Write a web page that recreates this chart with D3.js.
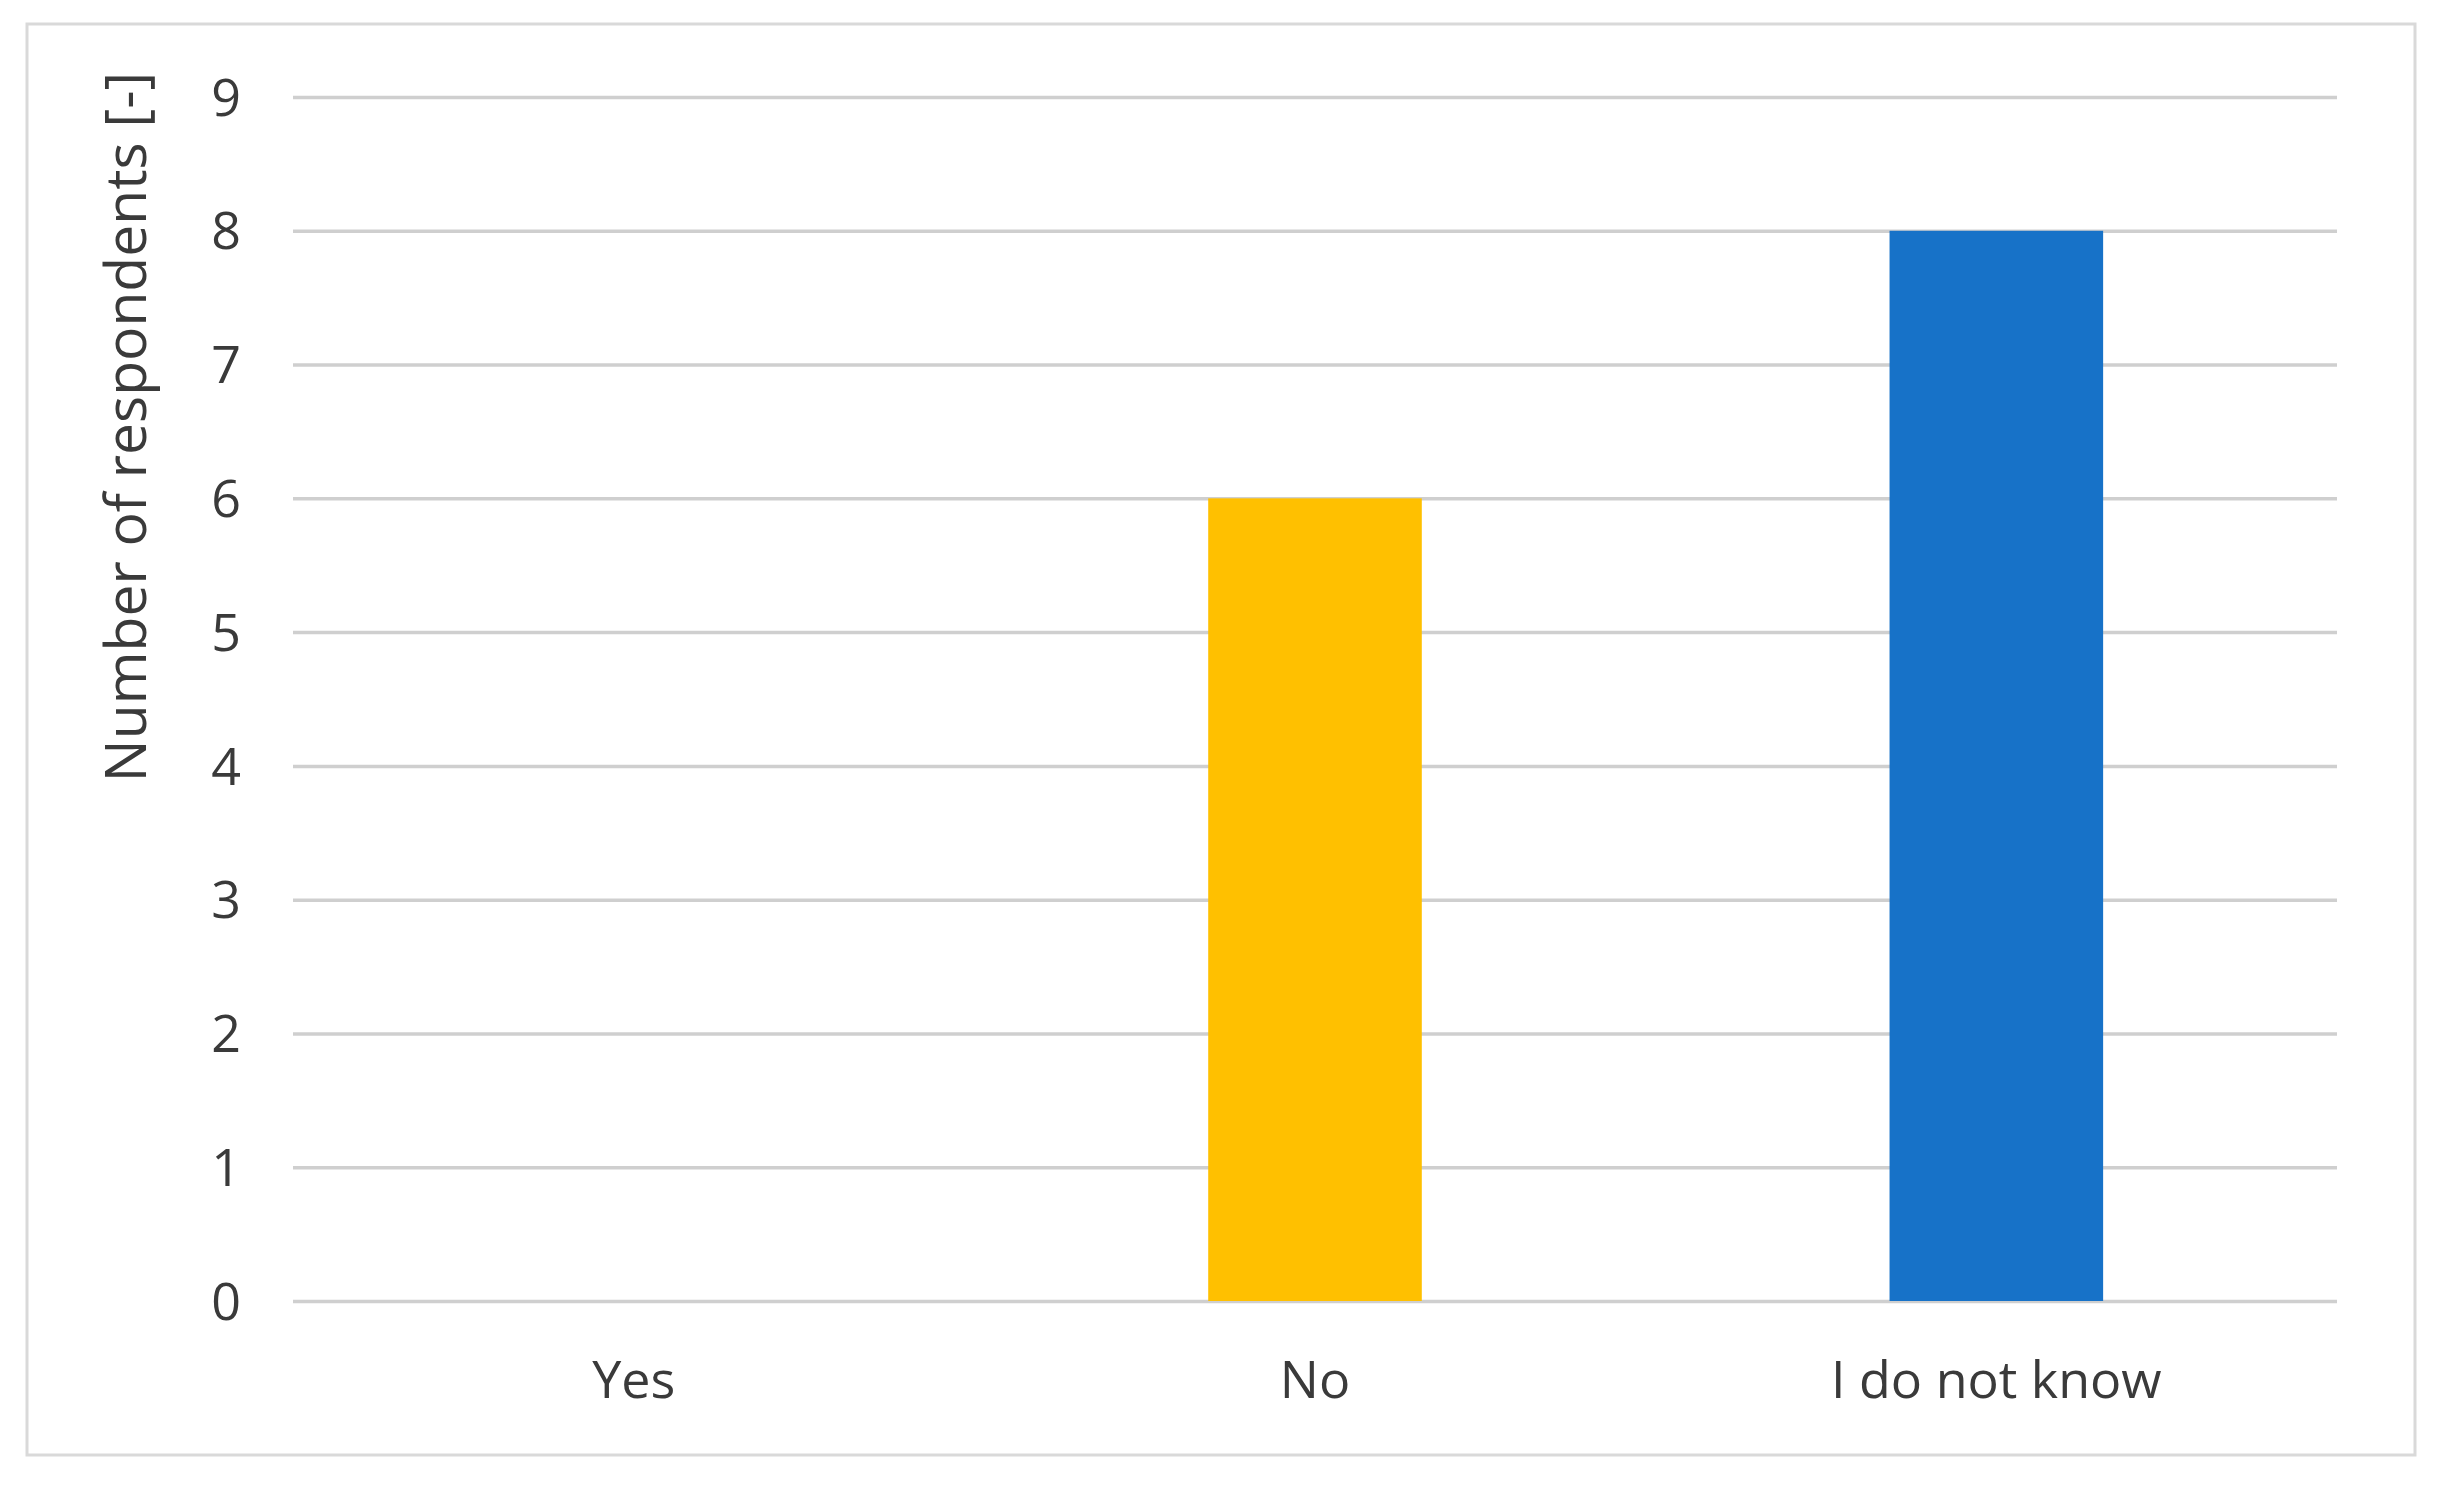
<!DOCTYPE html>
<html><head><meta charset="utf-8">
<script src="https://cdn.jsdelivr.net/npm/d3@7"></script>
<style>html,body{margin:0;padding:0;background:#fff;}svg{display:block;}</style>
</head><body>
<script>
const categories = ["Yes", "No", "I do not know"];
const values = [0, 6, 8];
const barColors = ["#4472C4", "#FFC000", "#1772C8"];
const yTicks = [0, 1, 2, 3, 4, 5, 6, 7, 8, 9];
const yTitle = "Number of respondents [-]";

(function () {
const W = 2443, H = 1491;
const mLeft = 293, mRight = 2337, mTop = 97, mBottom = 1301;
const font = "'Open Sans', sans-serif";
const textColor = "#3a3a3a";

const svg = d3.select("body").append("svg").attr("width", W).attr("height", H);
svg.append("rect").attr("x", 0).attr("y", 0).attr("width", W).attr("height", H).attr("fill", "#fff");
svg.append("rect").attr("x", 27).attr("y", 24).attr("width", 2388).attr("height", 1431)
  .attr("fill", "#fff").attr("stroke", "#d9d9d9").attr("stroke-width", 3);

const x = d3.scaleBand().domain(categories).range([mLeft, mRight]).padding(0);
const y = d3.scaleLinear().domain([0, 9]).range([mBottom, mTop]);

const yAxis = d3.axisLeft(y).tickValues(yTicks).tickSize(-(mRight - mLeft)).tickPadding(52).tickFormat(d3.format("d"));
const gy = svg.append("g").attr("transform", `translate(${mLeft},0)`).call(yAxis);
gy.select(".domain").remove();
gy.selectAll(".tick line").attr("stroke", "#cfcfcf").attr("stroke-width", 3.5);
gy.selectAll(".tick text").attr("fill", textColor).attr("font-family", font).attr("font-size", 52).attr("dy", "0.35em");

const barW = x.bandwidth() / 3.19;
svg.append("g").selectAll("rect").data(values).join("rect")
  .attr("x", (d, i) => x(categories[i]) + x.bandwidth() / 2 - barW / 2)
  .attr("width", barW)
  .attr("y", d => y(d))
  .attr("height", d => y(0) - y(d))
  .attr("fill", (d, i) => barColors[i]);

const xAxis = d3.axisBottom(x).tickSize(0).tickPadding(60);
const gx = svg.append("g").attr("transform", `translate(0,${mBottom})`).call(xAxis);
gx.select(".domain").remove();
gx.selectAll(".tick text").attr("fill", textColor).attr("font-family", font).attr("font-size", 52);

svg.append("text").attr("transform", `translate(146,427) rotate(-90)`)
  .attr("text-anchor", "middle").attr("fill", textColor).attr("font-family", font).attr("font-size", 57)
  .text(yTitle);
})();
</script>
</body></html>
